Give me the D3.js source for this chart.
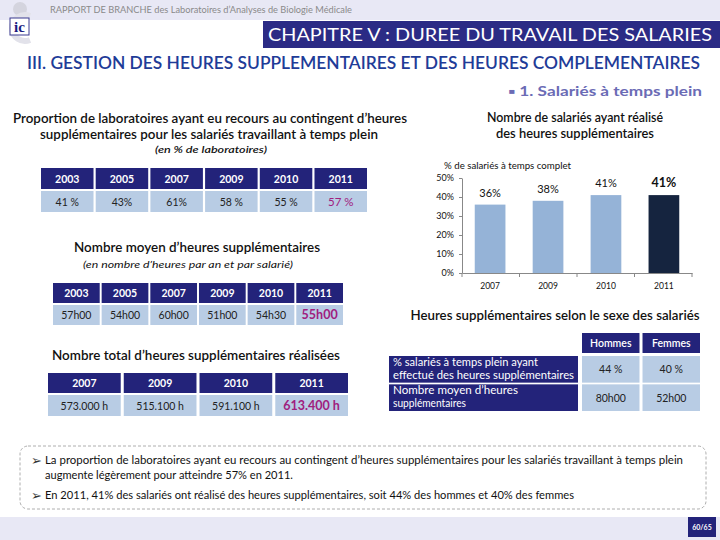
<!DOCTYPE html>
<html><head><meta charset="utf-8">
<script src="https://cdn.jsdelivr.net/npm/d3@7"></script>
<style>
html,body{margin:0;padding:0;background:#fff;}
svg{display:block;font-family:Lato,"Liberation Sans",sans-serif;}
</style></head>
<body>
<script>
// ---------- data ----------
const propYears = ["2003","2005","2007","2009","2010","2011"];
const propValues = ["41 %","43%","61%","58 %","55 %","57 %"];
const hoursYears = ["2003","2005","2007","2009","2010","2011"];
const hoursValues = ["57h00","54h00","60h00","51h00","54h30","55h00"];
const totalYears = ["2007","2009","2010","2011"];
const totalValues = ["573.000 h","515.100 h","591.100 h","613.400 h"];
const barYears = ["2007","2009","2010","2011"];
const barValues = [36,38,41,41];
const yTicks = [0,10,20,30,40,50];
const genderCols = ["Hommes","Femmes"];
const genderRows = ["% salariés à temps plein ayant|effectué des heures supplémentaires","Nombre moyen d’heures|supplémentaires"];
const genderPct = ["44 %","40 %"];
const genderHours = ["80h00","52h00"];
const notes = ["La proportion de laboratoires ayant eu recours au contingent d’heures supplémentaires pour les salariés travaillant à temps plein|augmente légèrement pour atteindre 57% en 2011.","En 2011, 41% des salariés ont réalisé des heures supplémentaires, soit 44% des hommes et 40% des femmes"];

const NAVY = "#23237a", LIGHT = "#b8cce4", HL = "#a0207e";

const svg = d3.select("body").append("svg").attr("width",720).attr("height",540);

// ---------- header ----------
svg.append("rect").attr("x",0).attr("y",0).attr("width",720).attr("height",20).attr("fill","#e8e8f5");
svg.append("circle").attr("cx",20).attr("cy",9).attr("r",7).attr("fill","#d4d4de");
svg.append("path").attr("d","M30,16 A13,13 0 1,0 30,40").attr("fill","none").attr("stroke","#e2e2ea").attr("stroke-width",6);
svg.append("rect").attr("x",10).attr("y",18).attr("width",19).attr("height",17).attr("fill","#fff").attr("stroke","#3a3a90").attr("stroke-width",1);
svg.append("text").attr("x",19.5).attr("y",32).attr("text-anchor","middle").attr("font-family","Liberation Serif,serif").attr("font-weight","bold").attr("font-size",15).attr("fill","#1a1a80").text("ic");
svg.append("text").attr("x",50).attr("y",13).attr("font-size",9).attr("fill","#8a8a8a").attr("textLength",302).attr("lengthAdjust","spacingAndGlyphs").text("RAPPORT DE BRANCHE des Laboratoires d’Analyses de Biologie Médicale");
svg.append("rect").attr("x",263).attr("y",21).attr("width",457).attr("height",27).attr("fill","#2b2b85");
svg.append("text").attr("x",712).attr("y",41).attr("text-anchor","end").attr("font-size",18).attr("fill","#fff").attr("textLength",444).attr("lengthAdjust","spacingAndGlyphs").text("CHAPITRE V : DUREE DU TRAVAIL DES SALARIES");
svg.append("text").attr("x",27).attr("y",69).attr("font-size",16.5).attr("font-weight",600).attr("fill","#1f3c98").attr("textLength",673).attr("lengthAdjust","spacingAndGlyphs").text("III. GESTION DES HEURES SUPPLEMENTAIRES ET DES HEURES COMPLEMENTAIRES");
svg.append("text").attr("x",702).attr("y",96).attr("text-anchor","end").attr("font-size",13).attr("font-weight","bold").attr("fill","#6b6bb5").attr("textLength",194).attr("lengthAdjust","spacingAndGlyphs").text("▪ 1. Salariés à temps plein");

// ---------- helper for tables ----------
function table(x0,x1,yH,hH,yV,hV,cols,vals,hlIndex,fs,hlBold){
  const xs = d3.scaleBand().domain(cols).range([x0,x1]).paddingInner(0.04);
  const g = svg.append("g");
  g.selectAll("rect.h").data(cols).join("rect").attr("x",d=>xs(d)).attr("y",yH).attr("width",xs.bandwidth()).attr("height",hH).attr("fill",NAVY);
  g.selectAll("text.h").data(cols).join("text").attr("x",d=>xs(d)+xs.bandwidth()/2).attr("y",yH+hH/2+4).attr("text-anchor","middle").attr("font-size",fs).attr("font-weight","bold").attr("fill","#fff").text(d=>d);
  g.selectAll("rect.v").data(vals).join("rect").attr("x",(d,i)=>xs(cols[i])).attr("y",yV).attr("width",xs.bandwidth()).attr("height",hV).attr("fill",LIGHT);
  g.selectAll("text.v").data(vals).join("text").attr("x",(d,i)=>xs(cols[i])+xs.bandwidth()/2).attr("y",yV+hV/2+4)
    .attr("text-anchor","middle").attr("font-size",(d,i)=>i===hlIndex&&hlBold?fs+2:(i===hlIndex?fs+1:fs))
    .attr("font-weight",(d,i)=>i===hlIndex&&hlBold?"bold":"normal")
    .attr("fill",(d,i)=>i===hlIndex?HL:"#222").text(d=>d);
}

// ---------- left block ----------
const tl = svg.append("g").attr("font-size",12.5).attr("font-weight",600).attr("fill","#111").attr("text-anchor","middle");
tl.append("text").attr("x",210).attr("y",123).attr("textLength",394).attr("lengthAdjust","spacingAndGlyphs").text("Proportion de laboratoires ayant eu recours au contingent d’heures");
tl.append("text").attr("x",209).attr("y",139).attr("textLength",338).attr("lengthAdjust","spacingAndGlyphs").text("supplémentaires pour les salariés travaillant à temps plein");
svg.append("text").attr("x",211).attr("y",153).attr("text-anchor","middle").attr("font-size",10).attr("font-style","italic").attr("font-weight",600).attr("fill","#111").attr("textLength",112).attr("lengthAdjust","spacingAndGlyphs").text("(en % de laboratoires)");
table(41,367,168,21,191,21,propYears,propValues,5,10.5,false);

svg.append("text").attr("x",197).attr("y",252).attr("text-anchor","middle").attr("font-size",12.5).attr("font-weight",600).attr("fill","#111").attr("textLength",246).attr("lengthAdjust","spacingAndGlyphs").text("Nombre moyen d’heures supplémentaires");
svg.append("text").attr("x",188).attr("y",268).attr("text-anchor","middle").attr("font-size",10).attr("font-style","italic").attr("fill","#111").attr("textLength",210).attr("lengthAdjust","spacingAndGlyphs").text("(en nombre d’heures par an et par salarié)");
table(53,343,283,20,305,20,hoursYears,hoursValues,5,10.5,true);

svg.append("text").attr("x",196).attr("y",360).attr("text-anchor","middle").attr("font-size",12.5).attr("font-weight",600).attr("fill","#111").attr("textLength",288).attr("lengthAdjust","spacingAndGlyphs").text("Nombre total d’heures supplémentaires réalisées");
table(48,348,373,20,395,21,totalYears,totalValues,3,10.5,true);

// ---------- bar chart ----------
svg.append("text").attr("x",575).attr("y",122).attr("text-anchor","middle").attr("font-size",12.5).attr("font-weight",600).attr("fill","#111").attr("textLength",176).attr("lengthAdjust","spacingAndGlyphs").text("Nombre de salariés ayant réalisé");
svg.append("text").attr("x",575).attr("y",138).attr("text-anchor","middle").attr("font-size",12.5).attr("font-weight",600).attr("fill","#111").attr("textLength",158).attr("lengthAdjust","spacingAndGlyphs").text("des heures supplémentaires");
svg.append("text").attr("x",444).attr("y",169).attr("font-size",9).attr("fill","#111").attr("textLength",127).attr("lengthAdjust","spacingAndGlyphs").text("% de salariés à temps complet");

const x = d3.scaleBand().domain(barYears).range([462,692]).paddingInner(0.47).paddingOuter(0.22);
const y = d3.scaleLinear().domain([0,50]).range([273,178]);
const gy = svg.append("g").attr("transform","translate(462,0)")
  .call(d3.axisLeft(y).tickValues(yTicks).tickFormat(d=>d+"%").tickSize(3).tickSizeOuter(0));
gy.select(".domain").attr("stroke","#888");
gy.selectAll(".tick line").attr("stroke","#888");
gy.selectAll(".tick text").attr("font-size",9).attr("font-family","Lato,sans-serif").attr("fill","#111").attr("dx",-2);
const gx = svg.append("g").attr("transform","translate(0,273)")
  .call(d3.axisBottom(x).tickSize(0).tickSizeOuter(0));
gx.select(".domain").attr("stroke","#888");
gx.selectAll(".tick text").attr("font-size",8.5).attr("font-family","Lato,sans-serif").attr("fill","#111").attr("dy","1.5em");
// category boundary ticks
svg.append("g").selectAll("line").data(d3.range(barYears.length+1)).join("line")
  .attr("x1",i=>462+i*x.step()/(1)*(230/(x.step()*4))).attr("x2",i=>462+i*230/4).attr("y1",273).attr("y2",277).attr("stroke","#888");
svg.append("g").selectAll("rect").data(barValues).join("rect")
  .attr("x",(d,i)=>x(barYears[i])).attr("width",x.bandwidth())
  .attr("y",d=>y(d)).attr("height",d=>273-y(d))
  .attr("fill",(d,i)=>i===3?"#15243f":"#95b3d7");
svg.append("g").selectAll("text").data(barValues).join("text")
  .attr("x",(d,i)=>x(barYears[i])+x.bandwidth()/2).attr("y",d=>y(d)-8)
  .attr("text-anchor","middle").attr("font-size",(d,i)=>i===3?12.5:11).attr("font-weight",(d,i)=>i===3?"bold":"normal")
  .attr("fill","#111").text(d=>d+"%");

// ---------- gender table ----------
svg.append("text").attr("x",555).attr("y",320).attr("text-anchor","middle").attr("font-size",12.5).attr("font-weight",600).attr("fill","#111").attr("textLength",289).attr("lengthAdjust","spacingAndGlyphs").text("Heures supplémentaires selon le sexe des salariés");
const gc = d3.scaleBand().domain(genderCols).range([582,700]).paddingInner(0.05);
const gr = d3.scaleBand().domain([0,1]).range([356,411]).paddingInner(0.06);
svg.append("g").selectAll("rect").data(genderCols).join("rect").attr("x",d=>gc(d)).attr("y",333).attr("width",gc.bandwidth()).attr("height",20).attr("fill",NAVY);
svg.append("g").selectAll("text").data(genderCols).join("text").attr("x",d=>gc(d)+gc.bandwidth()/2).attr("y",347).attr("text-anchor","middle").attr("font-size",10.5).attr("font-weight",600).attr("fill","#fff").text(d=>d);
const rowsG = svg.append("g");
const rowLens = [[145,181],[125,73]];
genderRows.forEach((r,i)=>{
  rowsG.append("rect").attr("x",389).attr("y",gr(i)).attr("width",189).attr("height",gr.bandwidth()).attr("fill",NAVY);
  r.split("|").forEach((ln,j)=>{
    rowsG.append("text").attr("x",393).attr("y",gr(i)+10+j*12.5).attr("font-size",10.5).attr("fill","#fff")
      .attr("textLength",rowLens[i][j]).attr("lengthAdjust","spacingAndGlyphs").text(ln);
  });
  const vals = i===0?genderPct:genderHours;
  vals.forEach((v,k)=>{
    rowsG.append("rect").attr("x",gc(genderCols[k])).attr("y",gr(i)).attr("width",gc.bandwidth()).attr("height",gr.bandwidth()).attr("fill",LIGHT);
    rowsG.append("text").attr("x",gc(genderCols[k])+gc.bandwidth()/2).attr("y",gr(i)+gr.bandwidth()/2+4).attr("text-anchor","middle").attr("font-size",10.5).attr("fill","#222").text(v);
  });
});

// ---------- notes box ----------
svg.append("rect").attr("x",20).attr("y",446).attr("width",686).attr("height",63).attr("rx",8)
  .attr("fill","none").attr("stroke","#999").attr("stroke-dasharray","3,2").attr("stroke-width",0.8);
const nb = svg.append("g").attr("font-size",10.5).attr("fill","#111");
const l1 = notes[0].split("|");
nb.append("text").attr("x",31).attr("y",465).attr("font-size",13).attr("fill","#333").text("➢");
nb.append("text").attr("x",45).attr("y",464).attr("textLength",638).attr("lengthAdjust","spacingAndGlyphs").text(l1[0]);
nb.append("text").attr("x",45).attr("y",479).attr("textLength",248).attr("lengthAdjust","spacingAndGlyphs").text(l1[1]);
nb.append("text").attr("x",31).attr("y",500).attr("font-size",13).attr("fill","#333").text("➢");
nb.append("text").attr("x",45).attr("y",499).attr("textLength",529).attr("lengthAdjust","spacingAndGlyphs").text(notes[1]);

// ---------- footer ----------
svg.append("rect").attr("x",0).attr("y",517).attr("width",720).attr("height",23).attr("fill","#e8e8f5");
svg.append("rect").attr("x",688).attr("y",517).attr("width",28).attr("height",20).attr("fill","#23237a");
svg.append("text").attr("x",702).attr("y",530).attr("text-anchor","middle").attr("font-size",7).attr("font-weight","bold").attr("fill","#fff").text("60/65");
</script>
</body></html>
